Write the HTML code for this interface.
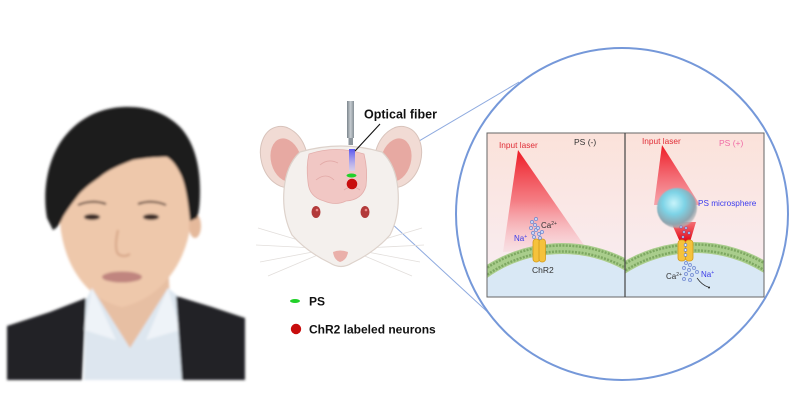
<!DOCTYPE html>
<html><head><meta charset="utf-8"><style>
html,body{margin:0;padding:0;background:#fff;width:798px;height:410px;overflow:hidden;}
svg{display:block;}
</style></head><body>
<svg width="798" height="410" viewBox="0 0 798 410" xmlns="http://www.w3.org/2000/svg" font-family="Liberation Sans, Arial, sans-serif">
<defs>
<filter id="soft" x="-10%" y="-10%" width="120%" height="120%"><feGaussianBlur stdDeviation="1.3"/></filter>
<filter id="soft2"><feGaussianBlur stdDeviation="0.6"/></filter>
<linearGradient id="bgL" x1="0" y1="0" x2="0" y2="1"><stop offset="0" stop-color="#fbe2da"/><stop offset="1" stop-color="#f8eef4"/></linearGradient>
<linearGradient id="laserL" gradientUnits="userSpaceOnUse" x1="0" y1="150" x2="0" y2="252"><stop offset="0" stop-color="#ee1a24" stop-opacity="1"/><stop offset="0.5" stop-color="#f2505a" stop-opacity="0.7"/><stop offset="1" stop-color="#f6a3b0" stop-opacity="0.15"/></linearGradient>
<linearGradient id="laserR" gradientUnits="userSpaceOnUse" x1="0" y1="145" x2="0" y2="205"><stop offset="0" stop-color="#ee1a24"/><stop offset="1" stop-color="#f36070" stop-opacity="0.5"/></linearGradient>
<linearGradient id="laserR2" gradientUnits="userSpaceOnUse" x1="0" y1="222" x2="0" y2="242"><stop offset="0" stop-color="#f23a40" stop-opacity="0.7"/><stop offset="1" stop-color="#e00010"/></linearGradient>
<radialGradient id="sph" cx="0.42" cy="0.38" r="0.62"><stop offset="0" stop-color="#c8f4fb"/><stop offset="0.45" stop-color="#7dd3e6"/><stop offset="0.85" stop-color="#8fa4ae"/><stop offset="1" stop-color="#b0b4b8" stop-opacity="0.7"/></radialGradient>
<linearGradient id="fiber" x1="0" y1="0" x2="1" y2="0"><stop offset="0" stop-color="#7c858c"/><stop offset="0.5" stop-color="#c5cbd0"/><stop offset="1" stop-color="#858e95"/></linearGradient>
<linearGradient id="beam" x1="0" y1="0" x2="0" y2="1"><stop offset="0" stop-color="#5a55ee"/><stop offset="1" stop-color="#c9d2ff" stop-opacity="0.6"/></linearGradient>
<clipPath id="cL"><rect x="487" y="133" width="138" height="164"/></clipPath>
<clipPath id="cR"><rect x="625" y="133" width="139" height="164"/></clipPath>
</defs>

<!-- PHOTO -->
<g filter="url(#soft)">
  <path d="M90,262 L168,262 L170,300 L130,352 L90,300 Z" fill="#e7bfa3"/>
  <path d="M60,200 C56,252 80,298 122,307 C164,298 194,256 192,200 C191,170 183,155 172,152 C140,150 100,170 76,195 Z" fill="#eec8ab"/>
  <ellipse cx="195" cy="226" rx="6" ry="12" fill="#e5b99b"/>
  <path d="M47,218 C42,190 48,160 62,140 C78,118 100,108 123,107 C145,106 165,112 180,127 C194,142 200,165 200,190 C200,205 199,212 197,218 L190,221 C188,200 185,182 180,173 C176,165 172,160 167,157 C155,157 145,158 133,160 C120,165 108,170 100,177 C90,184 82,190 77,197 C70,206 66,212 63,217 C60,224 57,228 53,230 Z" fill="#1d1b1c"/>
  <path d="M78,205 Q92,199 106,204" stroke="#5b4238" stroke-width="2" fill="none"/>
  <path d="M138,204 Q152,199 166,205" stroke="#5b4238" stroke-width="2" fill="none"/>
  <ellipse cx="92" cy="217" rx="8" ry="3" fill="#3b2a26"/>
  <ellipse cx="151" cy="217" rx="8" ry="3" fill="#3b2a26"/>
  <path d="M118,230 Q114,248 118,254 Q124,258 130,254" stroke="#d6a586" stroke-width="2" fill="none"/>
  <ellipse cx="122" cy="277" rx="20" ry="5.5" fill="#c0857f"/>
  <path d="M86,300 L92,288 L130,348 L168,288 L178,296 L182,380 L84,380 Z" fill="#dde6ef"/>
  <path d="M92,288 L84,330 L116,340 Z" fill="#eef3f8"/>
  <path d="M168,288 L180,330 L146,340 Z" fill="#eef3f8"/>
  <path d="M7,326 L50,312 L86,298 L82,380 L7,380 Z" fill="#222327"/>
  <path d="M176,296 L212,307 L245,318 L245,380 L182,380 Z" fill="#222327"/>
</g>

<!-- connector lines -->
<line x1="358" y1="177" x2="519" y2="82" stroke="#8eaadf" stroke-width="1"/>
<line x1="352" y1="187" x2="493" y2="317" stroke="#8eaadf" stroke-width="1"/>

<!-- MOUSE -->
<g>
  <g stroke="#e2dedb" stroke-width="0.8" fill="none">
    <path d="M315,245 L258,228"/><path d="M315,248 L256,245"/><path d="M318,251 L260,262"/><path d="M320,254 L268,276"/>
    <path d="M365,245 L422,228"/><path d="M365,248 L424,245"/><path d="M362,251 L420,262"/><path d="M360,254 L412,276"/>
  </g>
  <ellipse cx="284" cy="157" rx="23" ry="31" transform="rotate(-15 284 157)" fill="#f1dbd4" stroke="#d8c3bb" stroke-width="1"/>
  <ellipse cx="286" cy="160" rx="15" ry="22" transform="rotate(-15 286 160)" fill="#e7a9a2"/>
  <ellipse cx="398" cy="157" rx="23" ry="31" transform="rotate(15 398 157)" fill="#f1dbd4" stroke="#d8c3bb" stroke-width="1"/>
  <ellipse cx="396" cy="160" rx="15" ry="22" transform="rotate(15 396 160)" fill="#e7a9a2"/>
  <path d="M300,152 Q341,140 382,152 Q396,165 398,190 Q400,215 390,235 Q375,252 352,263 Q341,270 330,263 Q307,252 292,235 Q282,215 284,190 Q286,165 300,152 Z" fill="#f4f0ed" stroke="#ddd2cb" stroke-width="1.2"/>
  <path d="M309,154 Q336,145 364,154 Q368,170 366,186 Q362,200 346,201 Q336,206 324,201 Q309,197 308,182 Q306,166 309,154 Z" fill="#f1c7c4" stroke="#e3aeab" stroke-width="0.8"/>
  <path d="M320,165 Q328,158 338,163 M316,180 Q326,172 334,180 M344,190 Q352,184 360,190" stroke="#e2a9a6" stroke-width="0.8" fill="none"/>
  <ellipse cx="316" cy="212" rx="4.5" ry="6" fill="#b23a3a"/>
  <ellipse cx="365" cy="212" rx="4.5" ry="6" fill="#b23a3a"/>
  <circle cx="317" cy="210" r="1.3" fill="#e88"/>
  <circle cx="366" cy="210" r="1.3" fill="#e88"/>
  <path d="M333,252 Q340,249 348,252 Q347,260 340,262 Q334,260 333,252 Z" fill="#eab0aa"/>
  <rect x="347" y="101" width="7" height="37" fill="url(#fiber)"/>
  <rect x="348.5" y="138" width="4.5" height="7" fill="#8d959c"/>
  <rect x="349" y="149" width="6" height="22" fill="url(#beam)"/>
  <ellipse cx="351.5" cy="175.5" rx="5" ry="2" fill="#22d12a"/>
  <circle cx="352" cy="184" r="5.3" fill="#c80d0d"/>
  <line x1="380" y1="124" x2="355" y2="151" stroke="#111" stroke-width="1.1"/>
</g>
<text x="364" y="118.5" font-size="12.5" font-weight="bold" fill="#111">Optical fiber</text>

<ellipse cx="295" cy="301" rx="5" ry="2" fill="#22d12a"/>
<text x="309" y="305.5" font-size="12" font-weight="bold" fill="#111">PS</text>
<circle cx="296" cy="329" r="5.2" fill="#c80d0d"/>
<text x="309" y="333.5" font-size="12" font-weight="bold" fill="#111">ChR2 labeled neurons</text>

<!-- BIG CIRCLE -->
<circle cx="622" cy="214" r="166" fill="#fff" stroke="#7598d9" stroke-width="2"/>

<!-- LEFT PANEL -->
<g clip-path="url(#cL)">
  <rect x="487" y="133" width="138" height="164" fill="url(#bgL)"/>
  <polygon points="518,150 503,252 586,248" fill="url(#laserL)"/>
  <path d="M482,281.8 A129 129 0 0 1 630,273.4 L630,297 L482,297 Z" fill="#d9e8f5"/>
  <path d="M482,274.9 A134.5 134.5 0 0 1 630,267" fill="none" stroke="#a9cd8c" stroke-width="11"/>
  <path d="M482,271.2 A137.5 137.5 0 0 1 630,263.5" fill="none" stroke="#7ea862" stroke-width="2.5" stroke-dasharray="2 1.3"/>
  <path d="M482,278.6 A131.5 131.5 0 0 1 630,270.4" fill="none" stroke="#7ea862" stroke-width="2.5" stroke-dasharray="2 1.3"/>
  <rect x="533" y="239" width="6.5" height="23" rx="3" fill="#f5c23c" stroke="#d39a1c" stroke-width="0.8"/>
  <rect x="539" y="239" width="6.5" height="23" rx="3" fill="#f5c23c" stroke="#d39a1c" stroke-width="0.8"/>
  <g fill="#c8d6f5" stroke="#5d79c9" stroke-width="0.6">
    <circle cx="532" cy="222" r="1.6"/><circle cx="535" cy="225" r="1.6"/><circle cx="531" cy="228" r="1.6"/><circle cx="536" cy="230" r="1.6"/><circle cx="533" cy="233" r="1.6"/><circle cx="539" cy="234" r="1.6"/><circle cx="534" cy="237" r="1.6"/><circle cx="540" cy="238" r="1.6"/><circle cx="538" cy="228" r="1.6"/><circle cx="542" cy="232" r="1.6"/><circle cx="536" cy="219" r="1.6"/>
  </g>
  <text x="499" y="148" font-size="8.3" fill="#e02c36">Input laser</text>
  <text x="574" y="145" font-size="8.5" fill="#333">PS (-)</text>
  <text x="541" y="228" font-size="8" fill="#333">Ca<tspan font-size="5" dy="-3">2+</tspan></text>
  <text x="514" y="241" font-size="8" fill="#3a3ae8">Na<tspan font-size="5" dy="-3">+</tspan></text>
  <text x="532" y="273" font-size="8.5" fill="#333">ChR2</text>
</g>

<!-- RIGHT PANEL -->
<g clip-path="url(#cR)">
  <rect x="625" y="133" width="139" height="164" fill="url(#bgL)"/>
  <polygon points="662,145 654,205 700,205" fill="url(#laserR)"/>
  <polygon points="671,222 696,222 690,242 680,242" fill="url(#laserR2)"/>
  <circle cx="677" cy="208" r="20" fill="url(#sph)" filter="url(#soft2)"/>
  <g fill="#e6efff" stroke="#3f5fc8" stroke-width="0.5">
    <rect x="680" y="226" width="2" height="2"/><rect x="685" y="227" width="2" height="2"/><rect x="683" y="231" width="2" height="2"/><rect x="688" y="232" width="2" height="2"/><rect x="682" y="236" width="2" height="2"/>
  </g>
  <path d="M620,277 A129 129 0 0 1 769,276.3 L769,297 L620,297 Z" fill="#d9e8f5"/>
  <path d="M620,270.4 A134.5 134.5 0 0 1 769,269.7" fill="none" stroke="#a9cd8c" stroke-width="11"/>
  <path d="M620,266.8 A137.5 137.5 0 0 1 769,266.1" fill="none" stroke="#7ea862" stroke-width="2.5" stroke-dasharray="2 1.3"/>
  <path d="M620,274 A131.5 131.5 0 0 1 769,273.3" fill="none" stroke="#7ea862" stroke-width="2.5" stroke-dasharray="2 1.3"/>
  <rect x="678" y="240" width="7.5" height="21" rx="3" fill="#f5c23c" stroke="#d39a1c" stroke-width="0.8"/>
  <rect x="685.5" y="240" width="7.5" height="21" rx="3" fill="#f5c23c" stroke="#d39a1c" stroke-width="0.8"/>
  <g fill="#e6efff" stroke="#5d79c9" stroke-width="0.6">
    <circle cx="685.5" cy="245" r="1.4"/><circle cx="685.5" cy="250" r="1.4"/><circle cx="685.5" cy="255" r="1.4"/>
  </g>
  <g fill="#c8d6f5" stroke="#5d79c9" stroke-width="0.6">
    <circle cx="686" cy="263" r="1.6"/><circle cx="690" cy="265" r="1.6"/><circle cx="684" cy="268" r="1.6"/><circle cx="689" cy="270" r="1.6"/><circle cx="694" cy="268" r="1.6"/><circle cx="686" cy="274" r="1.6"/><circle cx="692" cy="275" r="1.6"/><circle cx="697" cy="272" r="1.6"/><circle cx="684" cy="279" r="1.6"/><circle cx="690" cy="280" r="1.6"/>
  </g>
  <path d="M697,278 Q702,285 708,287" stroke="#222" stroke-width="0.7" fill="none"/>
  <circle cx="709" cy="287.5" r="1" fill="#222"/>
  <text x="642" y="144" font-size="8.3" fill="#e02c36">Input laser</text>
  <text x="719" y="146" font-size="8.5" fill="#f06aa6">PS (+)</text>
  <text x="698" y="206" font-size="8.2" fill="#3b3bee">PS microsphere</text>
  <text x="666" y="279" font-size="8" fill="#333">Ca<tspan font-size="5" dy="-3">2+</tspan></text>
  <text x="701" y="277" font-size="8" fill="#3a3ae8">Na<tspan font-size="5" dy="-3">+</tspan></text>
</g>
<rect x="487" y="133" width="277" height="164" fill="none" stroke="#666" stroke-width="1"/>
<line x1="625" y1="133" x2="625" y2="297" stroke="#444" stroke-width="1.2"/>
</svg>
</body></html>
